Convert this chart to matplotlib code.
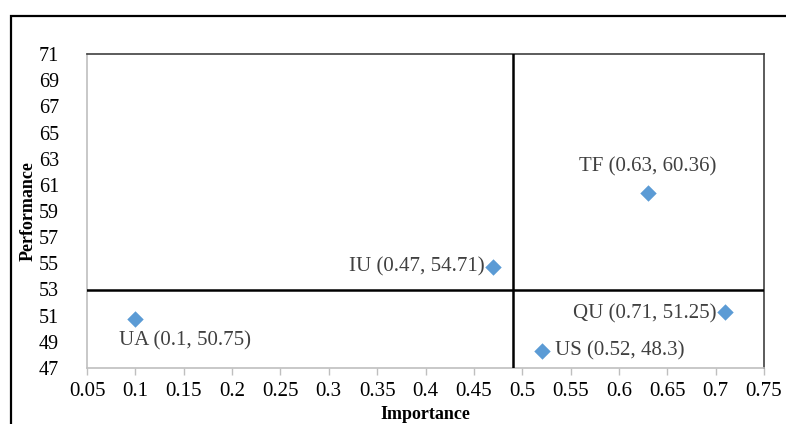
import matplotlib
matplotlib.use("Agg")
import matplotlib.pyplot as plt
from matplotlib.patches import Rectangle

plt.rcParams['font.family'] = ['Liberation Serif', 'DejaVu Serif']

names = ["TF", "IU", "QU", "US", "UA"]
importance = [0.63, 0.47, 0.71, 0.52, 0.10]
performance = [60.36, 54.71, 51.25, 48.3, 50.75]
label_offsets = [(0, 12), (-6, 0), (-6, -1), (10, 0), (-12, -16)]
label_ha = ["center", "right", "right", "left", "left"]
label_va = ["bottom", "center", "center", "center", "center"]

x_ticks = [0.05, 0.1, 0.15, 0.2, 0.25, 0.3, 0.35, 0.4, 0.45, 0.5, 0.55, 0.6, 0.65, 0.7, 0.75]
x_ticklabels = ["0.05", "0.1", "0.15", "0.2", "0.25", "0.3", "0.35", "0.4", "0.45", "0.5",
                "0.55", "0.6", "0.65", "0.7", "0.75"]
y_ticks = list(range(47, 72, 2))
x_split = 0.49
y_split = 53

fig = plt.figure(figsize=(7.86, 4.24), dpi=100)
ax = fig.add_axes([87/786, 56/424, 677/786, 314/424])

# outer frame
fig.patches.append(Rectangle((11/786, -0.1), 1.2, (424-16)/424 + 0.1, transform=fig.transFigure,
                             fill=False, edgecolor='black', linewidth=1.6, zorder=0))

ax.scatter(importance, performance, marker='D', s=70, color='#5B9BD5', zorder=5, linewidths=0)
ax.axvline(x_split, color='black', linewidth=1.8, zorder=3)
ax.axhline(y_split, color='black', linewidth=1.8, zorder=3)

for n, xv, yv, off, ha, va in zip(names, importance, performance, label_offsets, label_ha, label_va):
    ax.annotate(f"{n} ({xv:g}, {yv:g})", (xv, yv), xytext=off, textcoords='offset points',
                ha=ha, va=va, fontsize=15, color='#404040')

ax.set_xlim(0.05, 0.75)
ax.set_ylim(47, 71)
ax.set_xticks(x_ticks)
ax.set_xticklabels(x_ticklabels)
ax.set_yticks(y_ticks)
ax.tick_params(axis='x', length=5, width=1, color='#BFBFBF', labelsize=15, pad=5)
ax.tick_params(axis='y', length=0, labelsize=14.5, pad=20)

for side in ['left', 'bottom']:
    ax.spines[side].set_color('#BFBFBF')
    ax.spines[side].set_linewidth(1.2)
for side in ['top', 'right']:
    ax.spines[side].set_color('#404040')
    ax.spines[side].set_linewidth(1.2)

ax.set_xlabel("Importance", fontsize=13, fontweight='bold', labelpad=4)
ax.set_ylabel("Performance", fontsize=13, fontweight='bold', labelpad=1.5)

fig.savefig("out.png", dpi=100)
